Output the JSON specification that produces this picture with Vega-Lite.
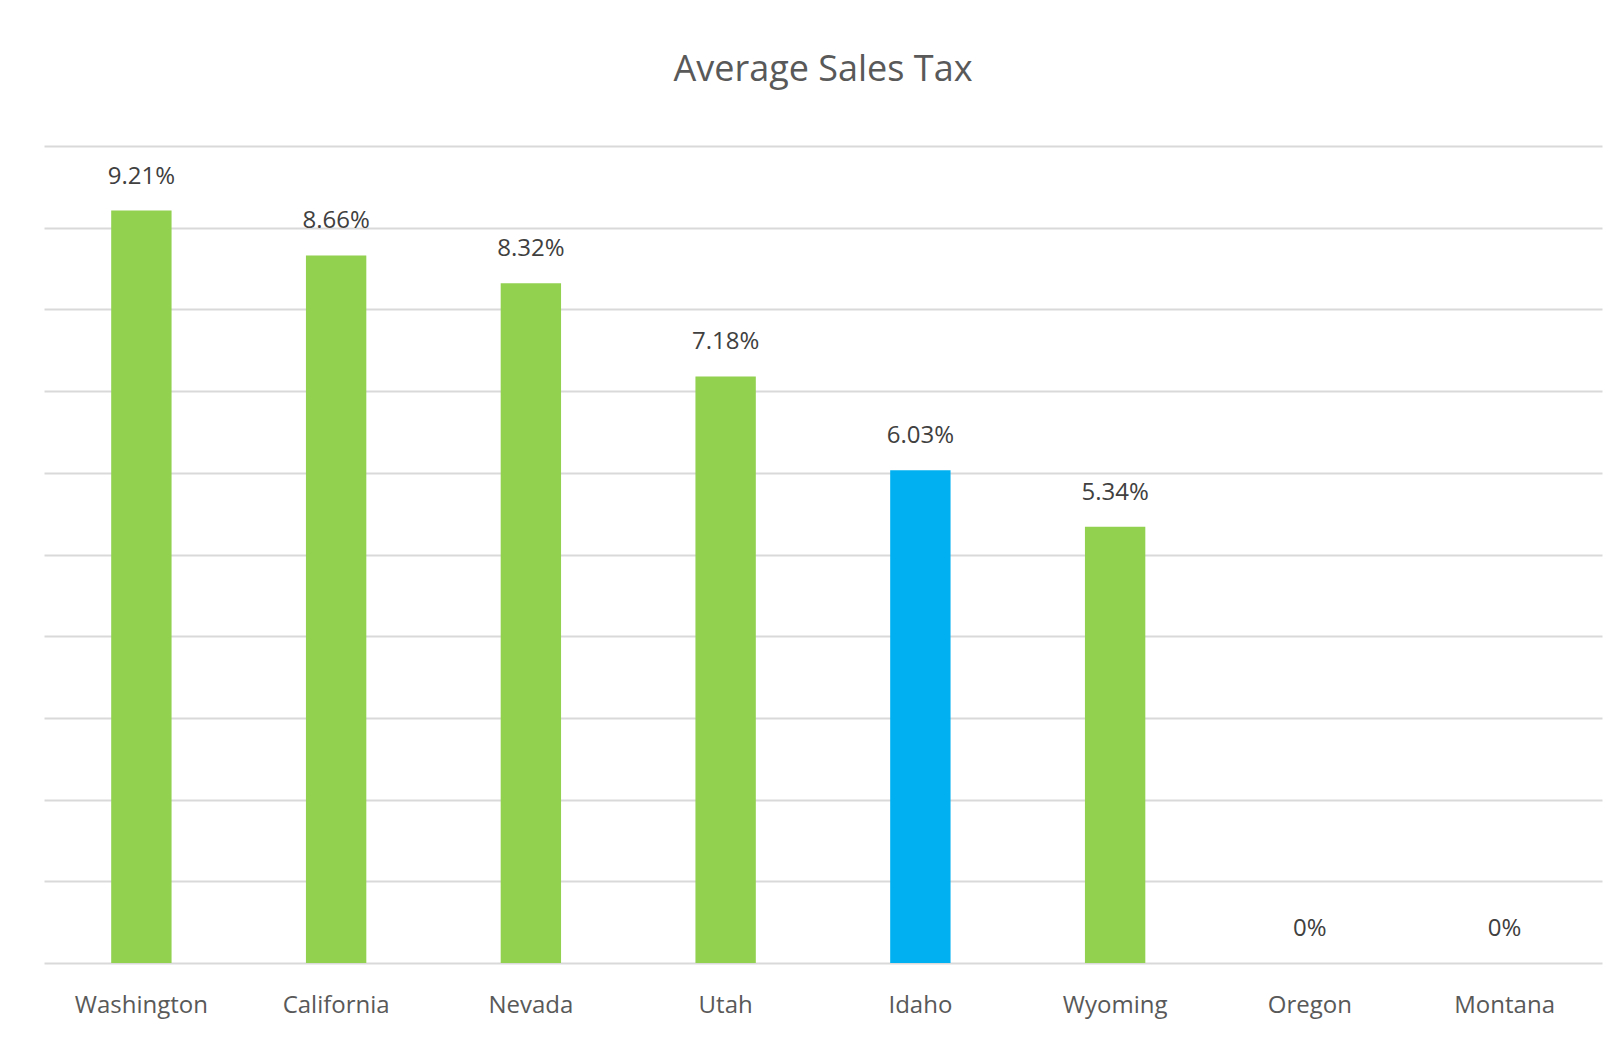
{
  "$schema": "https://vega.github.io/schema/vega-lite/v6.json",
  "width": 1558,
  "height": 817,
  "padding": {"left": 44, "top": 52, "right": 20, "bottom": 5},
  "background": "white",
  "title": {
    "text": "Average Sales Tax",
    "font": "Open Sans",
    "fontSize": 36,
    "fontWeight": "normal",
    "color": "#595959",
    "anchor": "middle",
    "offset": 57
  },
  "data": {
    "values": [
      {"state": "Washington", "tax": 0.0921},
      {"state": "California", "tax": 0.0866},
      {"state": "Nevada", "tax": 0.0832},
      {"state": "Utah", "tax": 0.0718},
      {"state": "Idaho", "tax": 0.0603},
      {"state": "Wyoming", "tax": 0.0534},
      {"state": "Oregon", "tax": 0},
      {"state": "Montana", "tax": 0}
    ]
  },
  "encoding": {
    "x": {
      "field": "state",
      "type": "nominal",
      "sort": null,
      "scale": {"paddingInner": 0.69, "paddingOuter": 0.345},
      "axis": {
        "title": null,
        "labelAngle": 0,
        "labelFont": "Open Sans",
        "labelFontSize": 24,
        "labelColor": "#595959",
        "labelPadding": 30,
        "ticks": false,
        "domainColor": "#d9d9d9",
        "domainWidth": 2
      }
    },
    "y": {
      "field": "tax",
      "type": "quantitative",
      "scale": {"domain": [0, 0.1], "nice": false},
      "axis": {
        "title": null,
        "labels": false,
        "ticks": false,
        "domain": false,
        "values": [0.01, 0.02, 0.03, 0.04, 0.05, 0.06, 0.07, 0.08, 0.09, 0.1],
        "gridColor": "#d9d9d9",
        "gridWidth": 2
      }
    }
  },
  "layer": [
    {
      "mark": {"type": "bar"},
      "encoding": {
        "color": {
          "field": "state",
          "type": "nominal",
          "scale": {
            "domain": ["Washington", "California", "Nevada", "Utah", "Idaho", "Wyoming", "Oregon", "Montana"],
            "range": ["#92D050", "#92D050", "#92D050", "#92D050", "#00B0F0", "#92D050", "#92D050", "#92D050"]
          },
          "legend": null
        }
      }
    },
    {
      "mark": {
        "type": "text",
        "baseline": "alphabetic",
        "dy": -27,
        "font": "Open Sans",
        "fontSize": 24,
        "color": "#404040"
      },
      "encoding": {
        "text": {"field": "tax", "type": "quantitative", "format": ".2~%"}
      }
    }
  ],
  "config": {
    "view": {"stroke": null}
  }
}
